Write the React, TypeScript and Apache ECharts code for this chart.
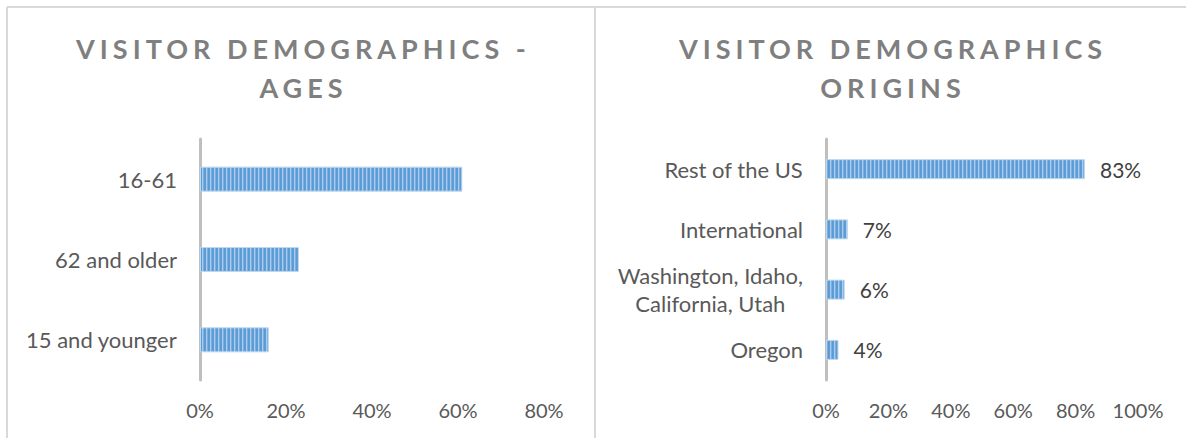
import React, { useEffect, useRef } from "react";
import * as echarts from "echarts";

const ageCategories = ["15 and younger", "62 and older", "16-61"];
const ageValues = [16, 23, 61];
const ageTicks = [0, 20, 40, 60, 80];

const originCategories = ["Oregon", "Washington, Idaho,\nCalifornia, Utah", "International", "Rest of the US"];
const originValues = [4, 6, 7, 83];
const originTicks = [0, 20, 40, 60, 80, 100];

const leftTitle = ["VISITOR DEMOGRAPHICS -", "AGES"];
const rightTitle = ["VISITOR DEMOGRAPHICS", "ORIGINS"];

const FONT = "Lato, 'Open Sans', sans-serif";

function makePattern() {
  const c = document.createElement("canvas");
  c.width = 4;
  c.height = 4;
  const ctx = c.getContext("2d")!;
  const cols = ["#5B9BD5", "#5E9DD6", "#A9CBEC", "#7DAEDF"];
  cols.forEach((col, i) => {
    ctx.fillStyle = col;
    ctx.fillRect(i, 0, 1, 4);
  });
  return c;
}

export default function App() {
  const ref = useRef<HTMLDivElement>(null);
  useEffect(() => {
    if (!ref.current) return;
    const chart = echarts.init(ref.current, null, { renderer: "svg" });
    const pattern = { image: makePattern(), repeat: "repeat" } as any;
    const yAxisBase = {
      type: "category" as const,
      axisLine: { show: true, lineStyle: { color: "#BFBFBF", width: 3 } },
      axisTick: { show: false },
      axisLabel: {
        fontSize: 22,
        color: "#595959",
        fontFamily: FONT,
        margin: 23,
        formatter: (v: string) => v.split("\n").map((s) => `{c|${s}}`).join("\n"),
        rich: { c: { align: "center", fontSize: 22, color: "#595959", fontFamily: FONT, lineHeight: 28 } },
      },
    };
    const xAxisBase = {
      type: "value" as const,
      min: 0,
      interval: 20,
      axisLine: { show: false },
      axisTick: { show: false },
      splitLine: { show: false },
      axisLabel: { fontSize: 20, color: "#595959", fontFamily: FONT, margin: 20, formatter: "{value}%" },
    };
    chart.setOption({
      animation: false,
      grid: [
        { left: 200, width: 344, top: 139, height: 241, containLabel: false },
        { left: 826, width: 312, top: 139, height: 241, containLabel: false },
      ],
      xAxis: [
        { ...xAxisBase, gridIndex: 0, max: ageTicks[ageTicks.length - 1] },
        { ...xAxisBase, gridIndex: 1, max: originTicks[originTicks.length - 1] },
      ],
      yAxis: [
        { ...yAxisBase, gridIndex: 0, data: ageCategories },
        { ...yAxisBase, gridIndex: 1, data: originCategories },
      ],
      series: [
        {
          type: "bar",
          xAxisIndex: 0,
          yAxisIndex: 0,
          data: ageValues,
          barWidth: 25,
          itemStyle: { color: pattern, borderColor: "#BDD7EE", borderWidth: 1 },
        },
        {
          type: "bar",
          xAxisIndex: 1,
          yAxisIndex: 1,
          data: originValues,
          barWidth: 20,
          itemStyle: { color: pattern, borderColor: "#BDD7EE", borderWidth: 1 },
          label: {
            show: true,
            position: "right",
            distance: 15,
            formatter: "{c}%",
            fontSize: 21,
            color: "#404040",
            fontFamily: FONT,
          },
        },
      ],
      graphic: [
        { type: "line", shape: { x1: 7, y1: 7, x2: 1186, y2: 7 }, style: { stroke: "#D9D9D9", lineWidth: 2 }, silent: true },
        { type: "line", shape: { x1: 7, y1: 7, x2: 7, y2: 438 }, style: { stroke: "#D9D9D9", lineWidth: 2 }, silent: true },
        { type: "line", shape: { x1: 595, y1: 7, x2: 595, y2: 438 }, style: { stroke: "#D9D9D9", lineWidth: 2 }, silent: true },
      ],
    });
    return () => chart.dispose();
  }, []);

  const titleStyle = (left: number, width: number): React.CSSProperties => ({
    position: "absolute",
    left,
    width,
    top: 29,
    textAlign: "center",
    fontFamily: FONT,
    fontWeight: 700,
    fontSize: 27,
    lineHeight: "39px",
    letterSpacing: "5px",
    paddingLeft: 5,
    boxSizing: "border-box",
    color: "#7F7F7F",
    pointerEvents: "none",
  });

  return (
    <div style={{ position: "absolute", left: 0, top: 0, width: 1186, height: 438, overflow: "hidden", background: "#fff" }}>
      <div ref={ref} style={{ position: "absolute", left: 0, top: 0, width: 1186, height: 438 }} />
      <div style={titleStyle(7, 588)}>
        {leftTitle.map((t, i) => (
          <div key={i}>{t}</div>
        ))}
      </div>
      <div style={titleStyle(595, 591)}>
        {rightTitle.map((t, i) => (
          <div key={i}>{t}</div>
        ))}
      </div>
    </div>
  );
}
